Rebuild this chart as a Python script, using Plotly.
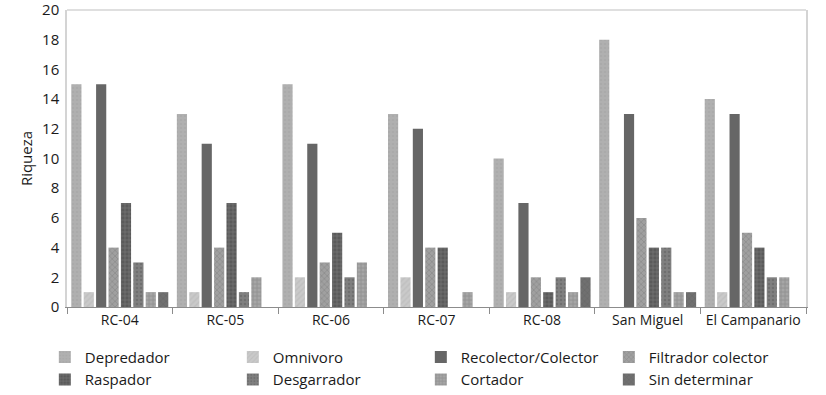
import plotly.graph_objects as go

sites = ["RC-04", "RC-05", "RC-06", "RC-07", "RC-08", "San Miguel", "El Campanario"]

depredador = [15, 13, 15, 13, 10, 18, 14]
omnivoro = [1, 1, 2, 2, 1, 0, 1]
recolector = [15, 11, 11, 12, 7, 13, 13]
filtrador = [4, 4, 3, 4, 2, 6, 5]
raspador = [7, 7, 5, 4, 1, 4, 4]
desgarrador = [3, 1, 2, 0, 2, 4, 2]
cortador = [1, 2, 3, 1, 1, 1, 2]
sin_determinar = [1, 0, 0, 0, 2, 1, 0]

series = [
    ("Depredador", depredador, "#b0b0b0", ".", "#a4a4a4"),
    ("Omnivoro", omnivoro, "#c9c9c9", "/", "#b5b5b5"),
    ("Recolector/Colector", recolector, "#666666", "", "#666666"),
    ("Filtrador colector", filtrador, "#a0a0a0", "x", "#7a7a7a"),
    ("Raspador", raspador, "#5a5a5a", "+", "#8a8a8a"),
    ("Desgarrador", desgarrador, "#808080", ".", "#5e5e5e"),
    ("Cortador", cortador, "#a6a6a6", "+", "#777777"),
    ("Sin determinar", sin_determinar, "#707070", "x", "#606060"),
]

fig = go.Figure()
for name, vals, color, shape, fg in series:
    fig.add_trace(go.Bar(
        name=name, x=sites, y=vals,
        marker=dict(color=color, line=dict(width=0),
                    pattern=dict(shape=shape, fgcolor=fg, size=4, solidity=0.35)),
    ))

fig.update_layout(
    width=826, height=395,
    barmode="group", bargap=0.06, bargroupgap=0.18,
    plot_bgcolor="white", paper_bgcolor="white",
    margin=dict(l=67, r=20, t=10, b=88, autoexpand=False),
    font=dict(family="Open Sans, Noto Sans, sans-serif", size=14, color="#1a1a1a"),
    xaxis=dict(showline=True, linecolor="#8c8c8c", linewidth=1,
               ticks="outside", tickson="boundaries", ticklen=6, tickcolor="#8c8c8c",
               tickfont=dict(size=14), tickangle=0, automargin=False),
    yaxis=dict(range=[0, 20], dtick=2, tick0=0, showgrid=False, zeroline=False,
               showline=True, linecolor="#d4d4d4", mirror=True, linewidth=1.5,
               ticks="", tickfont=dict(size=15), automargin=False,
               ticklabeloverflow="allow", ticklabelstandoff=3,
               title=dict(text="Riqueza", font=dict(size=15), standoff=6)),
    legend=dict(orientation="h", x=-0.03, xanchor="left", y=-0.114, yanchor="top",
                entrywidth=143, entrywidthmode="pixels",
                font=dict(size=15), itemwidth=30, tracegroupgap=0),
    showlegend=True,
    shapes=[dict(type="line", xref="paper", yref="paper", x0=0, x1=1, y0=1, y1=1,
                 line=dict(color="#d4d4d4", width=1.5), layer="above")],
)

fig.write_html("out.html", config={"displayModeBar": False},
               post_script="document.body.style.margin='0';document.body.style.overflow='hidden';")
